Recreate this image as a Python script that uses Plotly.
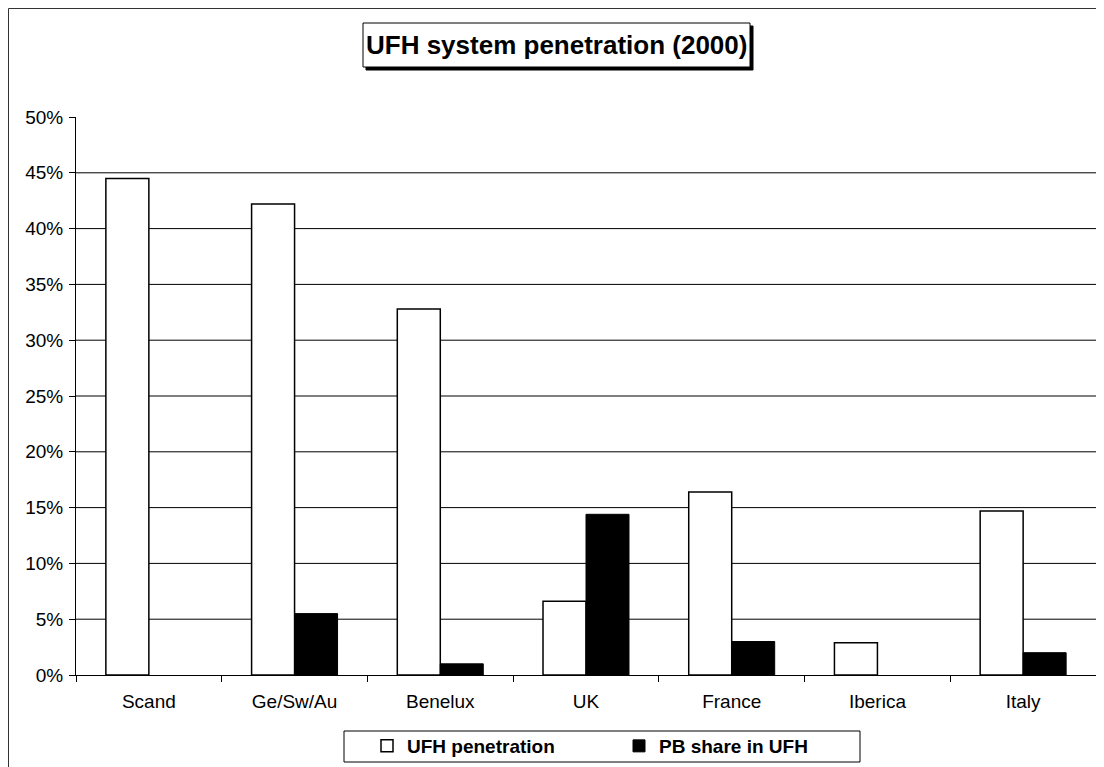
import plotly.graph_objects as go

categories = ["Scand", "Ge/Sw/Au", "Benelux", "UK", "France", "Iberica", "Italy"]
ufh_penetration = [0.445, 0.422, 0.328, 0.066, 0.164, 0.029, 0.147]
pb_share = [None, 0.055, 0.010, 0.144, 0.030, None, 0.020]
y_ticks = [0, 0.05, 0.10, 0.15, 0.20, 0.25, 0.30, 0.35, 0.40, 0.45, 0.50]
y_tick_labels = ["0%", "5%", "10%", "15%", "20%", "25%", "30%", "35%", "40%", "45%", "50%"]
grid_values = [0.05, 0.10, 0.15, 0.20, 0.25, 0.30, 0.35, 0.40, 0.45]
title_text = "UFH system penetration (2000)"

# page body has an 8px margin, so the figure is drawn at (8, 8) on screen
OFF = 8
W, H = 1104 - OFF, 767 - OFF
PLOT_LEFT, PLOT_TOP, PW, PH = 76, 117, 1020, 558   # in screen pixels
L, T = PLOT_LEFT - OFF, PLOT_TOP - OFF
R, B = W - L - PW, H - T - PH


def px_x(px):
    return (px - PLOT_LEFT) / PW


def px_y(py):
    return (PLOT_TOP + PH - py) / PH


FONT = "Arial, Liberation Sans, sans-serif"

fig = go.Figure()
fig.add_trace(go.Bar(
    x=categories, y=ufh_penetration, name="UFH penetration",
    marker=dict(color="white", line=dict(color="black", width=1.5)),
))
fig.add_trace(go.Bar(
    x=categories, y=pb_share, name="PB share in UFH",
    marker=dict(color="black", line=dict(color="black", width=1)),
))

shapes = []
for g in grid_values:
    shapes.append(dict(type="line", xref="paper", yref="y", x0=0, x1=1, y0=g, y1=g,
                       line=dict(color="black", width=1), layer="below"))
# outer chart border (left and top edges visible)
shapes.append(dict(type="rect", xref="paper", yref="paper",
                   x0=px_x(8.5), x1=px_x(1130), y0=px_y(790), y1=px_y(8.5),
                   line=dict(color="#333333", width=1), layer="below"))
# title box shadow and box
shapes.append(dict(type="rect", xref="paper", yref="paper",
                   x0=px_x(366), x1=px_x(753), y0=px_y(70), y1=px_y(26),
                   fillcolor="black", line=dict(color="black", width=1)))
shapes.append(dict(type="rect", xref="paper", yref="paper",
                   x0=px_x(363), x1=px_x(750), y0=px_y(67), y1=px_y(23),
                   fillcolor="white", line=dict(color="black", width=1)))
# legend box
shapes.append(dict(type="rect", xref="paper", yref="paper",
                   x0=px_x(344), x1=px_x(860), y0=px_y(762), y1=px_y(731),
                   fillcolor="white", line=dict(color="black", width=1)))

fig.update_layout(
    width=W, height=H,
    margin=dict(l=L, r=R, t=T, b=B, autoexpand=False),
    paper_bgcolor="white", plot_bgcolor="white",
    barmode="group", bargap=0.41, bargroupgap=0,
    font=dict(family=FONT, size=19, color="black"),
    shapes=shapes,
    annotations=[dict(text="<b>" + title_text + "</b>", xref="paper", yref="paper",
                      x=px_x(556.5), y=px_y(45), xanchor="center", yanchor="middle",
                      showarrow=False, font=dict(family=FONT, size=26, color="black"))],
    xaxis=dict(type="category", showline=True, linecolor="black", linewidth=1,
               ticks="outside", tickson="boundaries", ticklen=6, tickcolor="black",
               ticklabelstandoff=9,
               showgrid=False, tickfont=dict(size=19), automargin=False),
    yaxis=dict(range=[0, 0.5], tickvals=y_ticks, ticktext=y_tick_labels,
               showline=True, linecolor="black", linewidth=1,
               ticks="outside", ticklen=6, tickcolor="black",
               ticklabelstandoff=2,
               showgrid=False, zeroline=False, tickfont=dict(size=19), automargin=False),
    legend=dict(orientation="h", xanchor="left", yanchor="middle",
                x=px_x(367), y=px_y(746),
                bgcolor="rgba(0,0,0,0)", borderwidth=0,
                font=dict(family=FONT, size=19, color="black", weight="bold"),
                entrywidth=207, entrywidthmode="pixels", itemclick=False),
)

fig.write_html("out.html")
